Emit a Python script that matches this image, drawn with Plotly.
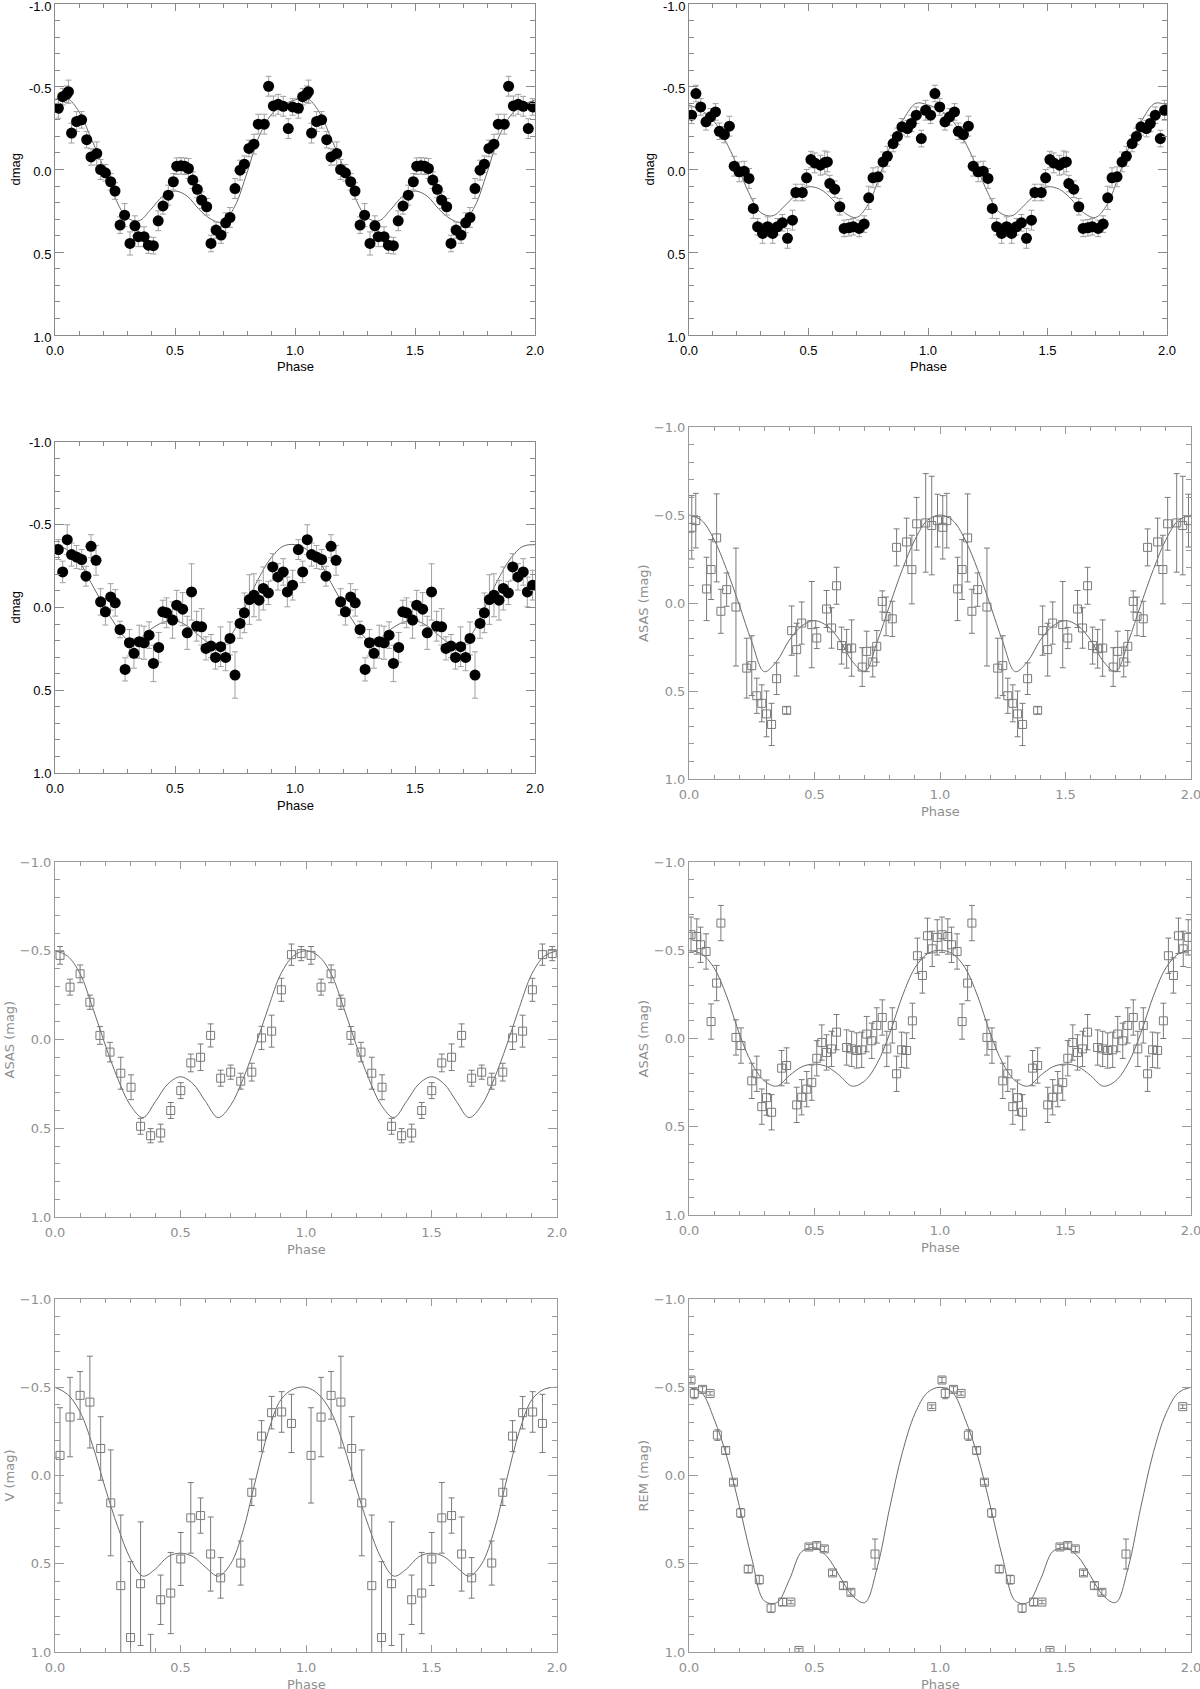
import plotly.graph_objects as go

W, H = 1200, 1689

# phase-folded light curves (one cycle, drawn twice)
p1_phase = [0.014, 0.032, 0.049, 0.056, 0.069, 0.09, 0.111, 0.132, 0.15, 0.174, 0.19, 0.21, 0.232, 0.25, 0.271,
            0.29, 0.3125, 0.333, 0.347, 0.371, 0.389, 0.41, 0.43, 0.45, 0.472, 0.493, 0.507, 0.525, 0.54, 0.556,
            0.574, 0.593, 0.611, 0.632, 0.65, 0.671, 0.692, 0.711, 0.729, 0.75, 0.771, 0.789, 0.808, 0.829, 0.847,
            0.872, 0.89, 0.91, 0.93, 0.951, 0.972, 0.99]
p1_mag = [-0.37, -0.44, -0.455, -0.47, -0.22, -0.29, -0.30, -0.18, -0.076, -0.097, 0.0, 0.02, 0.074, 0.13, 0.336,
          0.276, 0.447, 0.34, 0.406, 0.406, 0.457, 0.46, 0.31, 0.22, 0.155, 0.074, -0.02, -0.022, -0.02, -0.006,
          0.064, 0.12, 0.185, 0.225, 0.447, 0.366, 0.396, 0.322, 0.29, 0.115, 0.004, -0.032, -0.127, -0.153, -0.274,
          -0.274, -0.503, -0.384, -0.394, -0.382, -0.247, -0.378]
p1_err = [0.06, 0.05, 0.05, 0.07, 0.06, 0.06, 0.05, 0.05, 0.05, 0.07, 0.06, 0.05, 0.05, 0.05, 0.05, 0.07, 0.07,
          0.06, 0.06, 0.06, 0.05, 0.05, 0.06, 0.05, 0.06, 0.05, 0.05, 0.05, 0.05, 0.06, 0.05, 0.05, 0.05, 0.05,
          0.05, 0.05, 0.05, 0.06, 0.06, 0.06, 0.06, 0.05, 0.05, 0.06, 0.06, 0.06, 0.06, 0.06, 0.06, 0.06, 0.06, 0.05]

p2_phase = [0.011, 0.029, 0.049, 0.071, 0.09, 0.111, 0.127, 0.148, 0.169, 0.189, 0.21, 0.231, 0.251, 0.269, 0.287,
            0.308, 0.329, 0.35, 0.37, 0.391, 0.412, 0.433, 0.447, 0.474, 0.492, 0.51, 0.526, 0.55, 0.568, 0.579,
            0.589, 0.61, 0.631, 0.649, 0.669, 0.687, 0.712, 0.733, 0.752, 0.77, 0.791, 0.812, 0.83, 0.854, 0.872,
            0.891, 0.914, 0.93, 0.951, 0.972, 0.99]
p2_mag = [-0.328, -0.459, -0.378, -0.288, -0.318, -0.348, -0.231, -0.211, -0.262, -0.02, 0.014, 0.01, 0.054, 0.235,
          0.346, 0.386, 0.346, 0.386, 0.346, 0.322, 0.416, 0.306, 0.139, 0.139, 0.05, -0.06, -0.04, -0.026, -0.042,
          -0.046, 0.085, 0.119, 0.225, 0.356, 0.352, 0.346, 0.356, 0.33, 0.171, 0.05, 0.044, -0.046, -0.08, -0.157,
          -0.2, -0.258, -0.247, -0.278, -0.328, -0.187, -0.358]
p2_err = [0.05, 0.05, 0.05, 0.05, 0.05, 0.05, 0.05, 0.05, 0.06, 0.06, 0.06, 0.06, 0.06, 0.06, 0.05, 0.06, 0.06,
          0.06, 0.05, 0.05, 0.06, 0.06, 0.05, 0.05, 0.05, 0.05, 0.06, 0.06, 0.07, 0.06, 0.05, 0.05, 0.05, 0.05,
          0.05, 0.05, 0.05, 0.05, 0.07, 0.06, 0.06, 0.06, 0.06, 0.05, 0.05, 0.05, 0.05, 0.05, 0.05, 0.05, 0.06]

p3_phase = [0.014, 0.032, 0.051, 0.069, 0.09, 0.111, 0.129, 0.15, 0.171, 0.19, 0.21, 0.232, 0.251, 0.271, 0.292,
            0.31, 0.329, 0.351, 0.371, 0.392, 0.41, 0.432, 0.449, 0.465, 0.49, 0.507, 0.532, 0.551, 0.569, 0.59,
            0.611, 0.629, 0.65, 0.669, 0.69, 0.711, 0.729, 0.75, 0.771, 0.789, 0.81, 0.829, 0.85, 0.868, 0.889,
            0.907, 0.929, 0.951, 0.968, 0.99]
p3_mag = [-0.35, -0.215, -0.41, -0.32, -0.305, -0.29, -0.189, -0.37, -0.285, -0.034, 0.026, -0.064, -0.028, 0.133,
          0.374, 0.213, 0.277, 0.207, 0.213, 0.167, 0.338, 0.241, 0.026, 0.032, 0.076, -0.014, 0.01, 0.153, -0.094,
          0.113, 0.117, 0.247, 0.233, 0.302, 0.237, 0.302, 0.187, 0.408, 0.096, 0.032, -0.048, -0.074, -0.044,
          -0.115, -0.088, -0.245, -0.185, -0.215, -0.094, -0.135]
p3_err = [0.06, 0.065, 0.09, 0.07, 0.07, 0.06, 0.06, 0.07, 0.09, 0.08, 0.08, 0.08, 0.08, 0.05, 0.07, 0.08, 0.09,
          0.1, 0.1, 0.08, 0.11, 0.09, 0.07, 0.09, 0.11, 0.09, 0.1, 0.1, 0.17, 0.09, 0.11, 0.07, 0.07, 0.07, 0.12,
          0.08, 0.1, 0.14, 0.09, 0.12, 0.15, 0.13, 0.12, 0.13, 0.07, 0.08, 0.08, 0.08, 0.09, 0.09]

p4_phase = [0.011, 0.027, 0.07, 0.088, 0.11, 0.127, 0.15, 0.187, 0.23, 0.25, 0.27, 0.29, 0.309, 0.329, 0.349, 0.389,
            0.409, 0.429, 0.449, 0.489, 0.509, 0.548, 0.568, 0.588, 0.608, 0.628, 0.648, 0.69, 0.708, 0.732, 0.748,
            0.77, 0.785, 0.81, 0.827, 0.867, 0.888, 0.907, 0.943, 0.967, 0.99]
p4_mag = [-0.43, -0.468, -0.08, -0.19, -0.37, 0.047, -0.076, 0.023, 0.37, 0.356, 0.527, 0.57, 0.63, 0.69, 0.43, 0.61,
          0.157, 0.265, 0.114, 0.123, 0.199, 0.034, 0.142, -0.098, 0.242, 0.26, 0.256, 0.364, 0.275, 0.335, 0.246,
          -0.009, 0.076, 0.09, -0.316, -0.347, -0.19, -0.45, -0.455, -0.44, -0.468]
p4_err = [0.18, 0.155, 0.18, 0.17, 0.25, 0.125, 0.095, 0.335, 0.17, 0.17, 0.1, 0.105, 0.13, 0.12, 0.09, 0.02, 0.14,
          0.15, 0.12, 0.245, 0.06, 0.105, 0.115, 0.105, 0.105, 0.11, 0.16, 0.11, 0.115, 0.085, 0.09, 0.06, 0.11,
          0.1, 0.105, 0.135, 0.195, 0.15, 0.28, 0.28, 0.15]

p5_phase = [0.02, 0.06, 0.10, 0.139, 0.179, 0.219, 0.262, 0.303, 0.341, 0.381, 0.421, 0.461, 0.501, 0.541, 0.58,
            0.62, 0.66, 0.70, 0.74, 0.784, 0.823, 0.863, 0.902, 0.942, 0.981]
p5_mag = [-0.474, -0.295, -0.37, -0.21, -0.023, 0.071, 0.19, 0.269, 0.489, 0.542, 0.527, 0.40, 0.288, 0.132, 0.10,
          -0.023, 0.218, 0.184, 0.235, 0.184, -0.009, -0.047, -0.28, -0.478, -0.484]
p5_err = [0.05, 0.045, 0.05, 0.04, 0.05, 0.055, 0.09, 0.07, 0.045, 0.04, 0.05, 0.045, 0.045, 0.05, 0.075, 0.065,
          0.045, 0.04, 0.045, 0.05, 0.065, 0.09, 0.065, 0.06, 0.04]

p6_phase = [0.008, 0.031, 0.046, 0.068, 0.088, 0.11, 0.127, 0.187, 0.207, 0.25, 0.27, 0.29, 0.309, 0.329, 0.369,
            0.389, 0.429, 0.449, 0.469, 0.489, 0.509, 0.529, 0.548, 0.568, 0.588, 0.628, 0.648, 0.668, 0.688, 0.708,
            0.728, 0.748, 0.77, 0.788, 0.81, 0.827, 0.847, 0.867, 0.89, 0.91, 0.93, 0.95, 0.969, 0.989]
p6_mag = [-0.588, -0.578, -0.531, -0.493, -0.096, -0.314, -0.654, -0.006, 0.04, 0.24, 0.2, 0.386, 0.335, 0.418,
          0.168, 0.153, 0.376, 0.333, 0.287, 0.25, 0.112, 0.023, 0.079, 0.059, -0.036, 0.051, 0.059, 0.068, 0.064,
          -0.025, 0.013, -0.074, -0.119, 0.059, -0.074, 0.2, 0.064, 0.068, -0.1, -0.469, -0.357, -0.582, -0.508,
          -0.573]
p6_err = [0.1, 0.1, 0.1, 0.1, 0.1, 0.1, 0.1, 0.1, 0.1, 0.1, 0.1, 0.1, 0.1, 0.1, 0.1, 0.1, 0.1, 0.1, 0.1, 0.1, 0.1,
          0.1, 0.1, 0.1, 0.1, 0.1, 0.1, 0.1, 0.1, 0.1, 0.1, 0.1, 0.1, 0.1, 0.1, 0.1, 0.1, 0.1, 0.1, 0.1, 0.1, 0.1,
          0.1, 0.1]

p7_phase = [0.02, 0.06, 0.10, 0.139, 0.182, 0.222, 0.262, 0.301, 0.341, 0.381, 0.421, 0.461, 0.501, 0.541, 0.58,
            0.62, 0.66, 0.74, 0.784, 0.823, 0.863, 0.903, 0.942]
p7_mag = [-0.114, -0.331, -0.454, -0.416, -0.153, 0.155, 0.624, 0.918, 0.613, 1.08, 0.704, 0.666, 0.473, 0.24,
          0.227, 0.445, 0.58, 0.496, 0.095, -0.223, -0.356, -0.36, -0.295]
p7_err = [0.27, 0.225, 0.135, 0.26, 0.18, 0.30, 0.40, 0.43, 0.35, 0.18, 0.14, 0.23, 0.15, 0.20, 0.10, 0.21, 0.115,
          0.125, 0.075, 0.088, 0.092, 0.115, 0.165]

p8_phase = [0.008, 0.021, 0.054, 0.084, 0.113, 0.146, 0.177, 0.206, 0.236, 0.28, 0.327, 0.373, 0.406, 0.438, 0.478,
            0.509, 0.539, 0.572, 0.615, 0.645, 0.741, 0.967]
p8_mag = [-0.541, -0.465, -0.488, -0.465, -0.229, -0.142, 0.038, 0.212, 0.53, 0.59, 0.751, 0.717, 0.717, 0.991,
          0.405, 0.397, 0.416, 0.552, 0.624, 0.662, 0.445, -0.39]
p8_err = [0.015, 0.03, 0.015, 0.01, 0.03, 0.02, 0.015, 0.025, 0.02, 0.025, 0.025, 0.02, 0.01, 0.01, 0.015, 0.015,
          0.015, 0.015, 0.02, 0.015, 0.085, 0.01]

# fitted model curves, sampled every 0.05 in phase
curve_phase = [0.0, 0.05, 0.1, 0.15, 0.2, 0.25, 0.3, 0.35, 0.4, 0.45, 0.5, 0.55, 0.6, 0.65, 0.7, 0.75, 0.8, 0.85,
               0.9, 0.95, 1.0]
c1 = [-0.42, -0.43, -0.35, -0.19, -0.02, 0.17, 0.29, 0.31, 0.24, 0.16, 0.13, 0.16, 0.24, 0.30, 0.32, 0.22, 0.02,
      -0.20, -0.33, -0.39, -0.42]
c2 = [-0.39, -0.36, -0.30, -0.18, -0.03, 0.14, 0.26, 0.28, 0.22, 0.15, 0.105, 0.12, 0.18, 0.26, 0.29, 0.21, 0.03,
      -0.17, -0.31, -0.40, -0.39]
c3 = [-0.38, -0.35, -0.28, -0.15, -0.02, 0.10, 0.19, 0.19, 0.13, 0.09, 0.08, 0.11, 0.17, 0.22, 0.22, 0.13, -0.03,
      -0.18, -0.30, -0.37, -0.38]
c4 = [-0.50, -0.47, -0.36, -0.19, 0.01, 0.22, 0.39, 0.33, 0.21, 0.13, 0.10, 0.13, 0.21, 0.33, 0.39, 0.22, 0.01,
      -0.19, -0.36, -0.47, -0.50]
c5 = [-0.50, -0.47, -0.37, -0.18, 0.03, 0.22, 0.37, 0.44, 0.35, 0.25, 0.21, 0.25, 0.35, 0.44, 0.37, 0.22, 0.03,
      -0.18, -0.37, -0.47, -0.50]
c6 = [-0.50, -0.48, -0.40, -0.24, -0.03, 0.14, 0.24, 0.27, 0.21, 0.16, 0.145, 0.16, 0.21, 0.27, 0.24, 0.14, -0.03,
      -0.24, -0.40, -0.48, -0.50]
c7 = [-0.50, -0.46, -0.36, -0.17, 0.07, 0.29, 0.47, 0.57, 0.53, 0.46, 0.44, 0.46, 0.52, 0.57, 0.50, 0.31, 0.02,
      -0.25, -0.43, -0.49, -0.50]
c8 = [-0.50, -0.47, -0.32, -0.11, 0.17, 0.47, 0.71, 0.72, 0.59, 0.43, 0.41, 0.46, 0.57, 0.68, 0.72, 0.52, 0.18,
      -0.13, -0.35, -0.47, -0.50]

y_ticks = [-1.0, -0.5, 0.0, 0.5, 1.0]
y_labels_ascii = ["-1.0", "-0.5", "0.0", "0.5", "1.0"]
y_labels_idl = ["\u22121.0", "\u22120.5", "0.0", "0.5", "1.0"]
x_ticks = [0.0, 0.5, 1.0, 1.5, 2.0]
x_labels = ["0.0", "0.5", "1.0", "1.5", "2.0"]

# plot boxes in pixels: left, right, top, bottom
panels = [
    dict(ph=p1_phase, m=p1_mag, e=p1_err, c=c1, ylab="dmag", box=(55, 535, 4, 335), kind="dot"),
    dict(ph=p2_phase, m=p2_mag, e=p2_err, c=c2, ylab="dmag", box=(689, 1167, 4, 335), kind="dot"),
    dict(ph=p3_phase, m=p3_mag, e=p3_err, c=c3, ylab="dmag", box=(55, 535, 442, 773), kind="dot"),
    dict(ph=p4_phase, m=p4_mag, e=p4_err, c=c4, ylab="ASAS (mag)", box=(689, 1191, 427, 779), kind="sq"),
    dict(ph=p5_phase, m=p5_mag, e=p5_err, c=c5, ylab="ASAS (mag)", box=(55, 557, 862, 1217), kind="sq"),
    dict(ph=p6_phase, m=p6_mag, e=p6_err, c=c6, ylab="ASAS (mag)", box=(689, 1191, 862, 1215), kind="sq"),
    dict(ph=p7_phase, m=p7_mag, e=p7_err, c=c7, ylab="V (mag)", box=(55, 557, 1299, 1652), kind="sq"),
    dict(ph=p8_phase, m=p8_mag, e=p8_err, c=c8, ylab="REM (mag)", box=(689, 1191, 1299, 1652), kind="sq"),
]


def fx(v):
    return v / W


def fy(v):
    return 1 - v / H


fig = go.Figure()
layout = dict(width=W, height=H, margin=dict(l=0, r=0, t=0, b=0, autoexpand=False), paper_bgcolor="white",
              plot_bgcolor="white", showlegend=False)
annotations = []

for i, p in enumerate(panels, start=1):
    sfx = "" if i == 1 else str(i)
    x0, x1, y0, y1 = p["box"]
    dot = p["kind"] == "dot"
    axcol = "#8a8a8a" if dot else "#9a9a9a"
    txtcol = "black" if dot else "#8f8f8f"
    fam = "Liberation Sans, Arial" if dot else "DejaVu Sans"

    cx = curve_phase + [v + 1 for v in curve_phase[1:]]
    cy = p["c"] + p["c"][1:]
    fig.add_trace(go.Scatter(x=cx, y=cy, mode="lines", line=dict(color="#6a6a6a", width=1, shape="spline"),
                             xaxis="x" + sfx, yaxis="y" + sfx, hoverinfo="skip"))

    px = p["ph"] + [v + 1 for v in p["ph"]]
    pm = p["m"] + p["m"]
    pe = p["e"] + p["e"]
    if dot:
        marker = dict(symbol="circle", size=11, color="black")
        ecol = "#a0a0a0"
    else:
        marker = dict(symbol="square-open", size=8, color="#7a7a7a", line=dict(width=1))
        ecol = "#7a7a7a"
    fig.add_trace(go.Scatter(x=px, y=pm, mode="markers", marker=marker,
                             error_y=dict(type="data", array=pe, color=ecol, thickness=1, width=3),
                             xaxis="x" + sfx, yaxis="y" + sfx))

    tfont = dict(family=fam, size=13, color=txtcol)
    layout["xaxis" + sfx] = dict(
        domain=[fx(x0), fx(x1)], range=[0, 2], anchor="y" + sfx, automargin=False, ticklabeloverflow="allow",
        ticklabelstandoff=3,
        tickmode="array", tickvals=x_ticks, ticktext=x_labels,
        ticks="inside", ticklen=7, tickcolor=axcol, tickwidth=1,
        showline=True, linecolor=axcol, linewidth=1, mirror="ticks",
        showgrid=False, zeroline=False, tickfont=tfont,
        minor=dict(tickmode="linear", tick0=0, dtick=0.1, ticks="inside", ticklen=4, tickcolor=axcol,
                   showgrid=False),
    )
    layout["yaxis" + sfx] = dict(
        domain=[fy(y1), fy(y0)], range=[1, -1], anchor="x" + sfx, automargin=False, ticklabeloverflow="allow",
        # top-row labels sit a little lower so the -1.0 label stays on the page
        ticklabelshift=-2 if y0 < 10 else 0,
        tickmode="array", tickvals=y_ticks, ticktext=y_labels_ascii if dot else y_labels_idl,
        ticks="inside", ticklen=9, tickcolor=axcol, tickwidth=1,
        showline=True, linecolor=axcol, linewidth=1, mirror="ticks",
        showgrid=False, zeroline=False, tickfont=tfont,
        minor=dict(tickmode="linear", tick0=0, dtick=0.1, ticks="inside", ticklen=5, tickcolor=axcol,
                   showgrid=False),
    )
    # axis titles
    annotations.append(dict(text="Phase", x=fx((x0 + x1) / 2), y=fy(y1 + 32), xref="paper", yref="paper",
                            showarrow=False, font=dict(family=fam, size=13, color=txtcol),
                            xanchor="center", yanchor="middle"))
    tx = x0 - 40 if dot else x0 - 46
    annotations.append(dict(text=p["ylab"], x=fx(tx), y=fy((y0 + y1) / 2), xref="paper", yref="paper",
                            showarrow=False, textangle=-90, font=dict(family=fam, size=13, color=txtcol),
                            xanchor="center", yanchor="middle"))

layout["annotations"] = annotations
fig.update_layout(**layout)
# drop the default page margin so the figure sits at the window origin
fig.write_html("out.html", config={"displayModeBar": False},
               post_script="document.body.style.margin='0';")
